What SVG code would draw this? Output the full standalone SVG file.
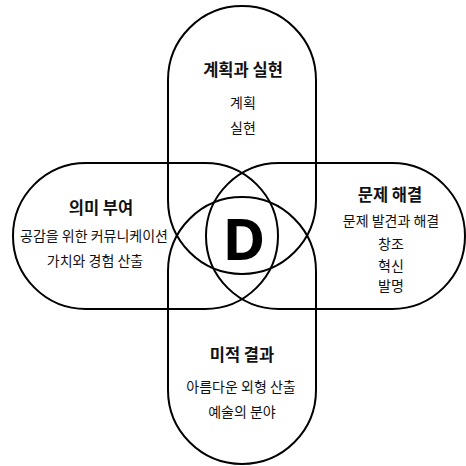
<svg xmlns="http://www.w3.org/2000/svg" width="466" height="466" viewBox="0 0 466 466">
<style>
.pill{fill:none;stroke:#000;stroke-width:2}
text{font-family:"Noto Sans CJK KR","Noto Sans",sans-serif;fill:#111;text-anchor:middle}
.t{font-size:16.5px;font-weight:bold}
.s{font-size:14px}
.d{font-family:"Noto Sans","Open Sans",sans-serif;font-size:58px;font-weight:bold;fill:#000}
</style>
<rect width="466" height="466" fill="#fff"/>
<g id="connectors"/>
<g id="top">
<rect class="pill" x="168" y="6" width="148" height="268" rx="74"/>
<text class="t" x="243" y="76">계획과 실현</text>
<text class="s" x="243" y="108">계획</text>
<text class="s" x="243" y="133">실현</text>
</g>
<g id="left">
<rect class="pill" x="13" y="163" width="265" height="146" rx="73"/>
<text class="t" x="101" y="214">의미 부여</text>
<text class="s" x="94" y="241">공감을 위한 커뮤니케이션</text>
<text class="s" x="95" y="266">가치와 경험 산출</text>
</g>
<g id="right">
<rect class="pill" x="206" y="163" width="259" height="146" rx="73"/>
<text class="t" x="390" y="201">문제 해결</text>
<text class="s" x="391" y="226">문제 발견과 해결</text>
<text class="s" x="391" y="249">창조</text>
<text class="s" x="391" y="271">혁신</text>
<text class="s" x="391" y="291">발명</text>
</g>
<g id="bottom">
<rect class="pill" x="168" y="197" width="148" height="267" rx="74"/>
<text class="t" x="242" y="361">미적 결과</text>
<text class="s" x="241" y="392">아름다운 외형 산출</text>
<text class="s" x="242" y="417">예술의 분야</text>
</g>
<g id="center">
<text class="d" x="244" y="260">D</text>
</g>
</svg>
